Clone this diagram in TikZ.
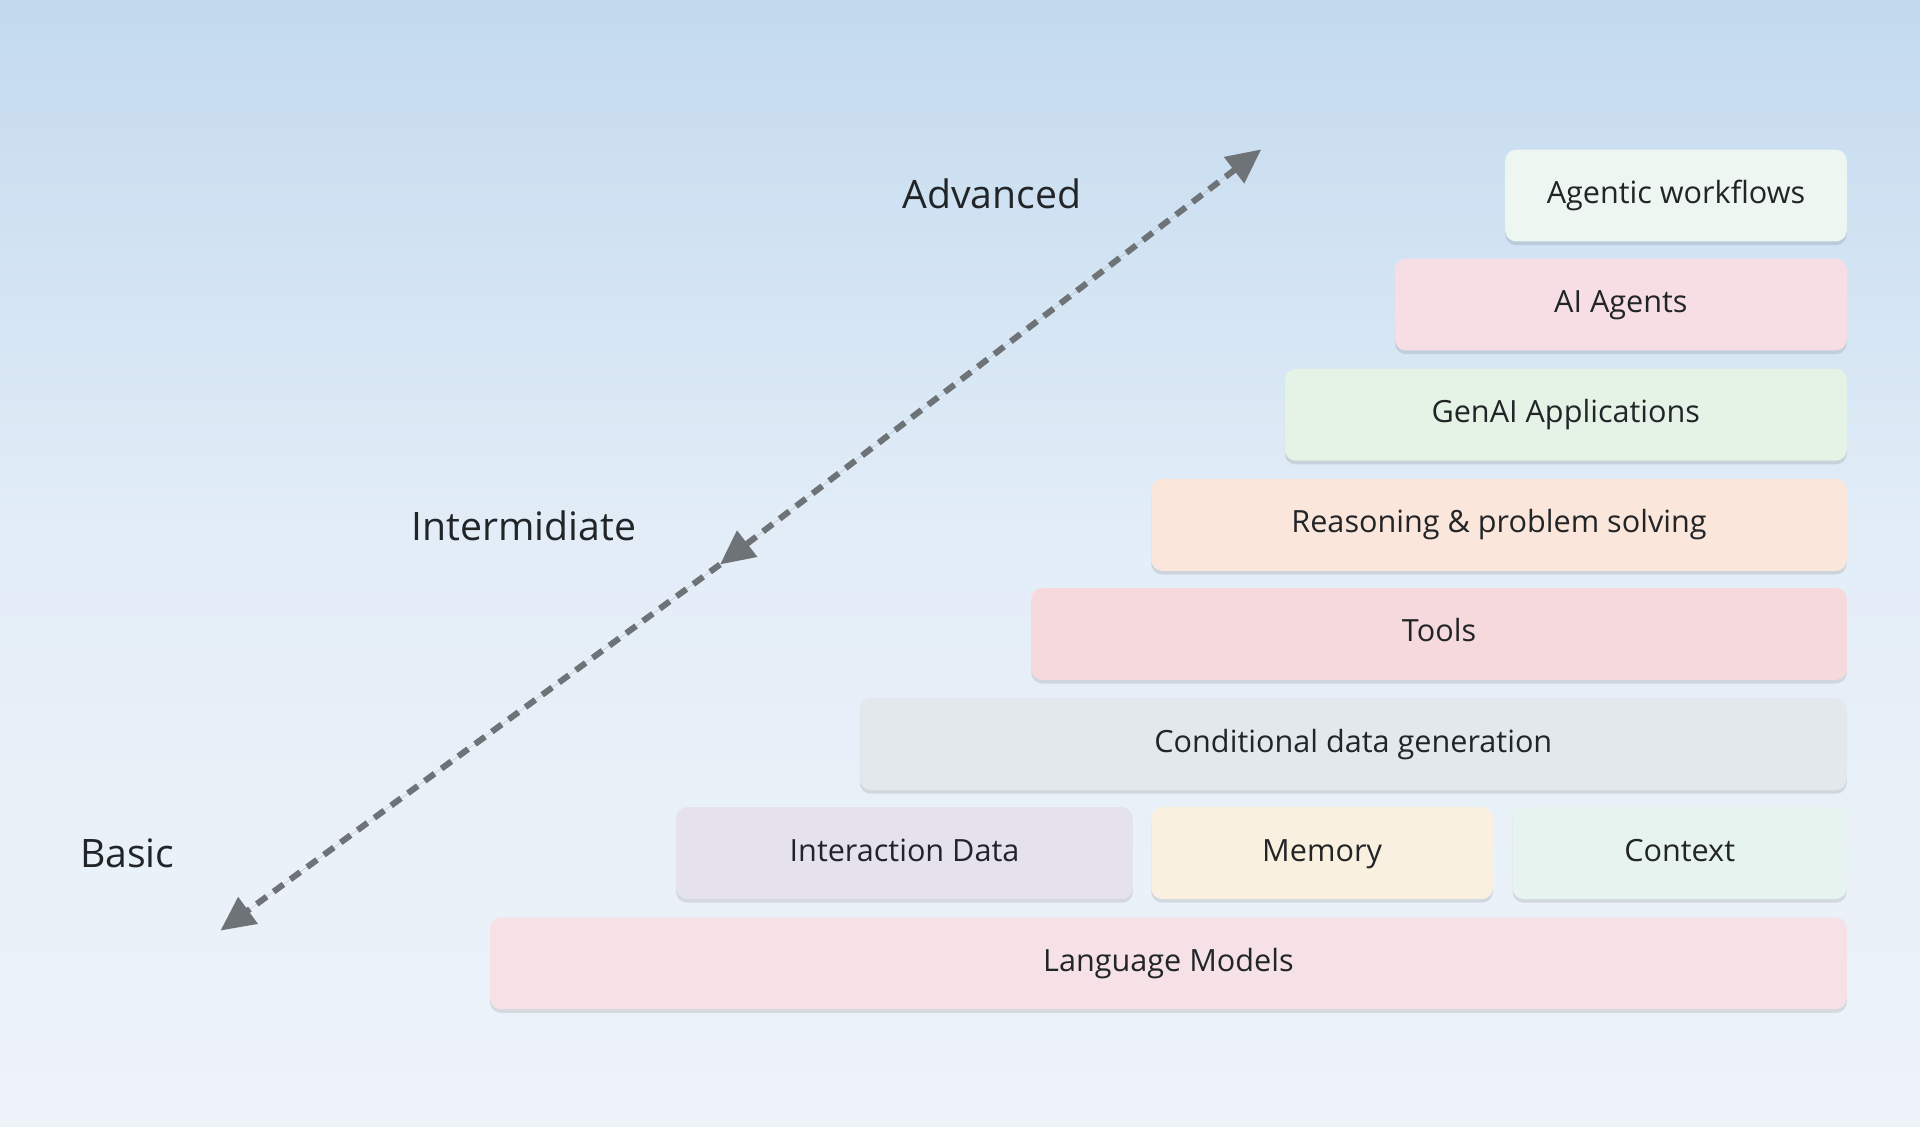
\documentclass[tikz,border=0pt]{standalone}
\usepackage{fontspec}
\setmainfont{Open Sans}
\usetikzlibrary{arrows.meta,shadows,calc}
\definecolor{bgtop}{HTML}{C3DAEE}
\definecolor{bgmid}{HTML}{E4EEF8}
\definecolor{bgbot}{HTML}{EEF3F9}
\definecolor{arr}{HTML}{6E7378}
\definecolor{txt}{HTML}{222528}
\tikzset{
  blk/.style={draw=none,rounded corners=9pt,anchor=north west,inner sep=0pt,
    text=txt,font=\fontsize{25}{30}\selectfont,text height=18pt,text depth=5pt,
    drop shadow={shadow xshift=0pt,shadow yshift=-3pt,opacity=0.10,fill=black}},
  lbl/.style={text=txt,font=\fontsize{32}{38}\selectfont},
  dashline/.style={draw=arr,line width=5pt,dash pattern=on 10pt off 7pt},
  tip/.style={-{Triangle[length=28pt,width=26pt]}},
  tips/.style={{Triangle[length=28pt,width=26pt]}-{Triangle[length=28pt,width=26pt]}},
}
\begin{document}
\begin{tikzpicture}[x=1pt,y=-1pt]
\useasboundingbox (0,0) rectangle (1568,920);
\shade[top color=bgtop,bottom color=bgmid] (0,0) rectangle (1568,460);
\shade[top color=bgmid,bottom color=bgbot] (0,460) rectangle (1568,920);
\newcommand{\blkbox}[7]{\node[blk,fill=#7,minimum width=#3pt,minimum height=#4pt] (#1) at (#2,#5) {#6};}
\definecolor{cA}{HTML}{EDF6F1}
\definecolor{cB}{HTML}{F7DEE4}
\definecolor{cC}{HTML}{E4F3E6}
\definecolor{cD}{HTML}{FBE6DB}
\definecolor{cE}{HTML}{F6D9DD}
\definecolor{cF}{HTML}{E3E8EC}
\definecolor{cG}{HTML}{E5E2EE}
\definecolor{cH}{HTML}{F9F0DF}
\definecolor{cI}{HTML}{E6F3EE}
\definecolor{cJ}{HTML}{F5E1E6}
\blkbox{agentic}{1229}{279}{75}{122}{Agentic workflows}{cA}
\blkbox{agents}{1139}{369}{75}{211}{AI Agents}{cB}
\blkbox{genai}{1049}{459}{75}{301}{GenAI Applications}{cC}
\blkbox{reason}{940}{568}{75}{391}{Reasoning \& problem solving}{cD}
\blkbox{tools}{842}{666}{75}{480}{Tools}{cE}
\blkbox{cond}{702}{806}{75}{570}{Conditional data generation}{cF}
\blkbox{inter}{552}{373}{75}{659}{Interaction Data}{cG}
\blkbox{mem}{940}{279}{75}{659}{Memory}{cH}
\blkbox{ctx}{1235}{273}{75}{659}{Context}{cI}
\blkbox{lm}{400}{1108}{75}{749}{Language Models}{cJ}
\node[lbl] (adv) at (810,158) {Advanced};
\node[lbl] (int) at (428,429) {Intermidiate};
\node[lbl] (bas) at (104,697) {Basic};
\coordinate (T) at (1030,122);
\coordinate (M) at (588,461);
\coordinate (B) at (180,760);
\draw[dashline,tips,fill=arr] (T) -- (M);
\draw[dashline,tip,fill=arr] (M) -- (B);
\end{tikzpicture}
\end{document}
